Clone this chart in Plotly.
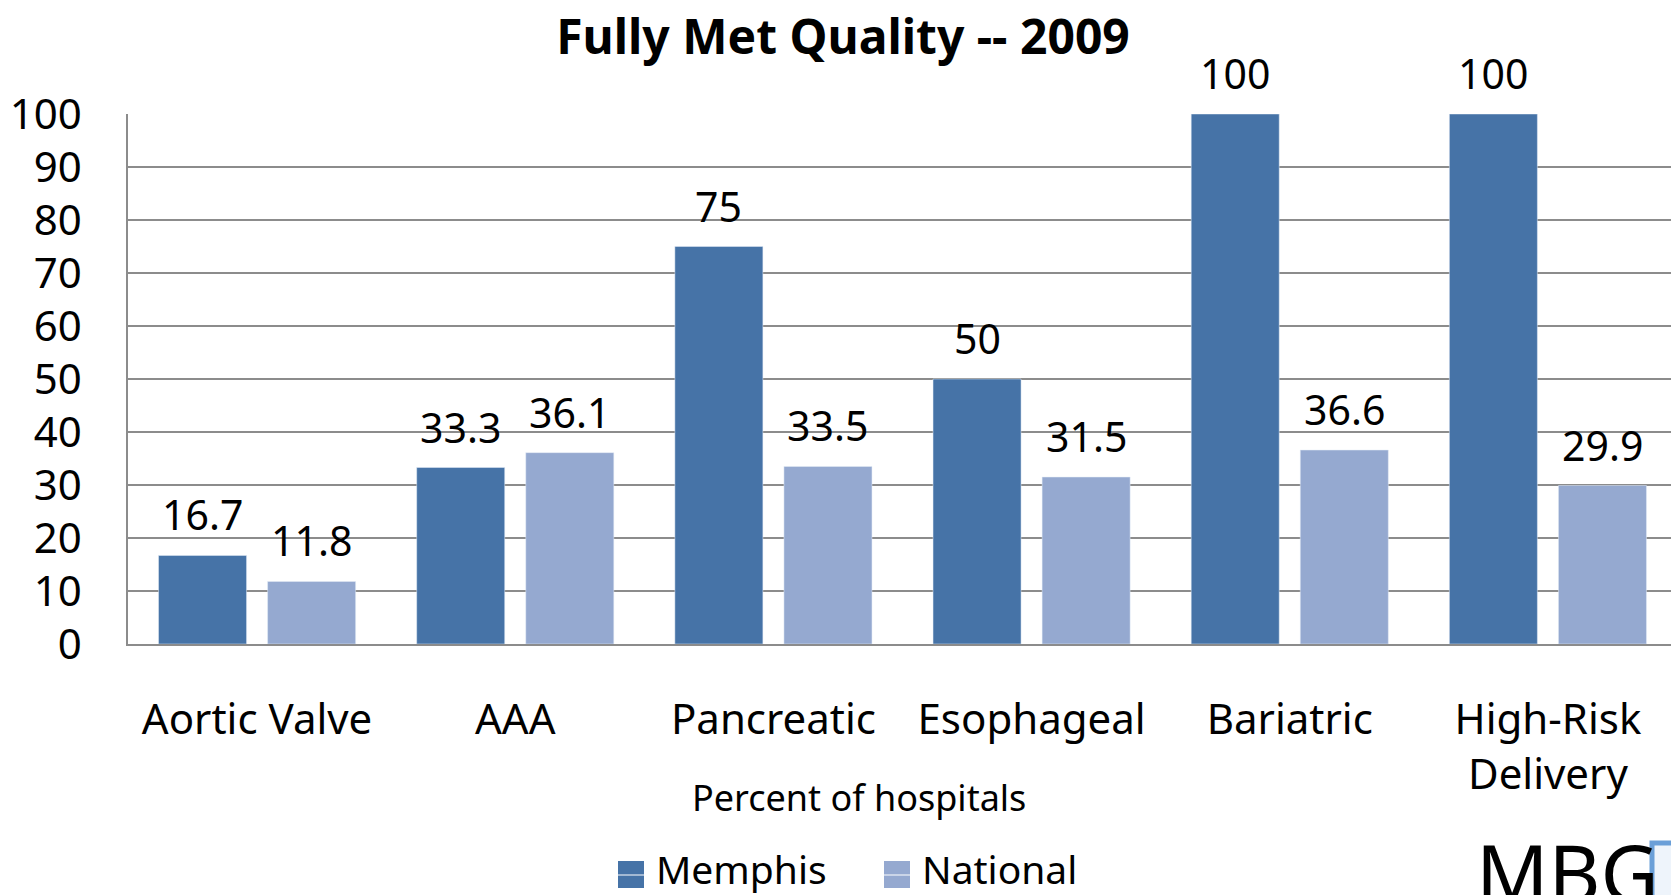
import plotly.graph_objects as go

categories = ["Aortic Valve", "AAA", "Pancreatic", "Esophageal", "Bariatric", "High-Risk<br>Delivery"]
series_names = ["Memphis", "National"]
memphis = [16.7, 33.3, 75, 50, 100, 100]
national = [11.8, 36.1, 33.5, 31.5, 36.6, 29.9]
memphis_labels = ["16.7", "33.3", "75", "50", "100", "100"]
national_labels = ["11.8", "36.1", "33.5", "31.5", "36.6", "29.9"]
y_ticks = list(range(0, 101, 10))

# the page body adds an 8px margin; figure coordinates = window coordinates - OFF
OFF = 8
W, H = 1679 - OFF, 895 - OFF
ML = 128 - OFF
MT = 114 - OFF
PLOT_BOTTOM = 644 - OFF
PLOT_RIGHT = 1677 - OFF
MR = W - PLOT_RIGHT
MB = H - PLOT_BOTTOM
PW = PLOT_RIGHT - ML
PH = PLOT_BOTTOM - MT
BARGAP = 0.155
BARGROUPGAP = 0.193
FONT = "Noto Sans"
C_M = "#4673a7"
C_N = "#95a9d0"
GRID = "#8c8c8c"


def px_x(wx):
    """window x pixel -> paper x"""
    return (wx - OFF - ML) / PW


def px_y(wy):
    """window y pixel -> paper y"""
    return (PLOT_BOTTOM - (wy - OFF)) / PH


fig = go.Figure()
fig.add_trace(go.Bar(name=series_names[0], x=categories, y=memphis, marker_color=C_M, showlegend=False))
fig.add_trace(go.Bar(name=series_names[1], x=categories, y=national, marker_color=C_N, showlegend=False))

cat_px = PW / len(categories)
slot = cat_px * (1 - BARGAP) / 2
ann = []
for vals, labs, sh in ((memphis, memphis_labels, -slot / 2), (national, national_labels, slot / 2)):
    for c, v, t in zip(categories, vals, labs):
        ann.append(dict(x=c, y=v, xref="x", yref="y", text=t, showarrow=False,
                        xshift=sh, yshift=11, yanchor="bottom",
                        font=dict(family=FONT, size=41, color="black")))

ann.append(dict(x=px_x(859), y=px_y(797), xref="paper", yref="paper",
                text="Percent of hospitals", showarrow=False, xanchor="center", yanchor="middle",
                font=dict(family=FONT, size=36, color="black")))

# manual legend (large square swatches)
shapes = []
legend_items = [(series_names[0], C_M, 618, 657), (series_names[1], C_N, 884, 923)]
for name, col, sx, tx in legend_items:
    shapes.append(dict(type="rect", xref="paper", yref="paper",
                       x0=px_x(sx), x1=px_x(sx + 26), y0=px_y(888), y1=px_y(861),
                       line=dict(width=0), fillcolor=col))
    shapes.append(dict(type="line", xref="paper", yref="paper",
                       x0=px_x(sx), x1=px_x(sx + 26), y0=px_y(875), y1=px_y(875),
                       line=dict(width=1, color="white")))
    ann.append(dict(x=px_x(tx - 3), y=px_y(868), xref="paper", yref="paper", text=name,
                    showarrow=False, xanchor="left", yanchor="middle",
                    font=dict(family=FONT, size=39, color="black")))

# logo (partially cropped at bottom-right)
ann.append(dict(x=px_x(1474), y=px_y(815), xref="paper", yref="paper",
                text="MBG", showarrow=False, xanchor="left", yanchor="top",
                font=dict(family=FONT, size=80, color="black")))
shapes.append(dict(type="rect", xref="paper", yref="paper",
                   x0=px_x(1652), x1=px_x(1710), y0=px_y(843), y1=px_y(930),
                   line=dict(color="#6a9fd8", width=5), fillcolor="#eef4fb"))

fig.update_layout(
    width=W, height=H,
    margin=dict(l=ML, r=MR, t=MT, b=MB, autoexpand=False),
    paper_bgcolor="white", plot_bgcolor="white",
    barmode="group", bargap=BARGAP, bargroupgap=BARGROUPGAP,
    title=dict(text="<b>Fully Met Quality -- 2009</b>", x=(843 - OFF) / W, xref="container",
               y=1 - (37 - OFF) / H, yref="container", xanchor="center", yanchor="middle",
               font=dict(family=FONT, size=48, color="black")),
    font=dict(family=FONT, size=42, color="black"),
    annotations=ann,
    shapes=shapes,
    showlegend=False,
)
fig.update_xaxes(showline=True, linecolor=GRID, linewidth=1.5, ticks="", showgrid=False,
                 ticklabelstandoff=38, tickfont=dict(family=FONT, size=42, color="black"))
fig.update_yaxes(range=[0, 100], tickvals=y_ticks, showgrid=True, gridcolor=GRID, gridwidth=1.5,
                 showline=True, linecolor=GRID, linewidth=1.5, ticks="", zeroline=False,
                 ticklabelstandoff=36, tickfont=dict(family=FONT, size=42, color="black"))
fig.update_traces(cliponaxis=False)

fig.write_html("out.html")
